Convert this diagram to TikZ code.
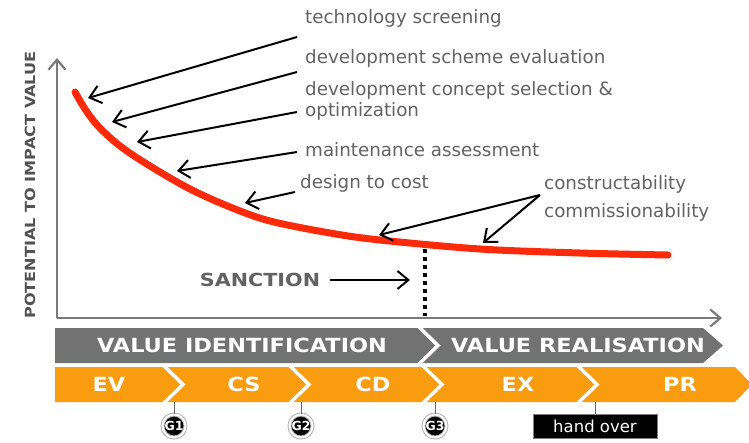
\documentclass[tikz,border=0pt]{standalone}
\usepackage{fontspec}
\setmainfont{DejaVu Sans}
\newfontfamily\bandfont[FakeStretch=1.15]{DejaVu Sans}
\usepackage{xcolor}
\usetikzlibrary{calc,arrows.meta,positioning}
\definecolor{curvered}{HTML}{FF2A0A}
\definecolor{axisgray}{HTML}{7A7A7A}
\definecolor{labgray}{HTML}{626262}
\definecolor{bandgray}{HTML}{727272}
\definecolor{bandorange}{HTML}{F99C10}
\tikzset{
  axisline/.style={draw=axisgray, line width=2.2pt, -{Straight Barb[length=10pt,width=17pt]}},
  pointer/.style={draw=black, line width=2pt, -{Straight Barb[length=11pt,width=18pt]}},
  lab/.style={text=labgray, font=\fontsize{18.3}{20}\selectfont, anchor=west, inner sep=0pt},
  boldlab/.style={text=labgray, font=\bandfont\bfseries\fontsize{18}{20}\selectfont, inner sep=0pt},
  bandtxt/.style={text=white, font=\bandfont\bfseries\fontsize{19.5}{22}\selectfont, inner sep=0pt},
  notch/.style={draw=white, line width=3.5pt},
  gate/.style={circle, fill=black, draw=gray!60, double=white, double distance=2pt, line width=1pt,
    minimum size=23pt, inner sep=0pt, text=white, font=\bfseries\fontsize{12.5}{14}\selectfont},
  tick/.style={draw=gray!80!black, line width=1pt},
}

\begin{document}
\begin{tikzpicture}[x=1pt,y=-1pt]
  \useasboundingbox (0,0) rectangle (749,442);

  % axes
  \coordinate (O) at (57,318);
  \coordinate (ytop) at (57,58);
  \coordinate (xend) at (722,318);
  \draw[axisline] (O) -- (ytop);
  \draw[axisline] (O) -- (xend);
  \node[boldlab, rotate=90, font=\bandfont\bfseries\fontsize{14}{16}\selectfont, text=labgray!85!black] (ylab) at (30,185) {POTENTIAL TO IMPACT VALUE};

  % value curve
  \draw[curvered, line width=7pt, line cap=round] plot[smooth, tension=0.55] coordinates
    {(75,92) (85,109) (98,126) (120,146) (150,166) (190,189) (230,207) (270,221) (330,233)
     (380,240) (480,249) (580,253) (668,255)};

  % labels
  \node[lab] (tech) at (305,18) {technology screening};
  \node[lab] (scheme) at (305,58) {development scheme evaluation};
  \node[lab] (concept) at (305,90) {development concept selection \&};
  \node[lab] (optim) at (305,111) {optimization};
  \node[lab] (maint) at (305,150) {maintenance assessment};
  \node[lab] (design) at (300,183) {design to cost};
  \node[lab] (constr) at (544,184) {constructability};
  \node[lab] (commis) at (544,212) {commissionability};

  % pointers
  \coordinate (c1) at (88,98);
  \coordinate (c2) at (112,122);
  \coordinate (c3) at (137,142);
  \coordinate (c4) at (177,171);
  \coordinate (c5) at (245,203);
  \coordinate (c6) at (379,235);
  \coordinate (c7) at (483,243);
  \draw[pointer] ($(tech.west)+(-8,19)$) -- (c1);
  \draw[pointer] ($(scheme.west)+(-8,14)$) -- (c2);
  \draw[pointer] ($(optim.west)+(-8,1)$) -- (c3);
  \draw[pointer] ($(maint.west)+(-8,2)$) -- (c4);
  \draw[pointer] ($(design.west)+(-5,9)$) -- (c5);
  \coordinate (cc) at ($(constr.west)+(-4,11)$);
  \draw[pointer] (cc) -- (c6);
  \draw[pointer] (cc) -- (c7);

  % sanction
  \node[boldlab] (sanct) at (260,280) {SANCTION};
  \coordinate (s1) at (425,249);
  \coordinate (s2) at (425,316);
  \draw[black, line width=3.5pt, dash pattern=on 4pt off 4pt] (s1) -- (s2);
  \draw[pointer] ($(sanct.east)+(10,0)$) -- ($(s1|-sanct)+(-15,0)$);

  % grey phase band
  \fill[bandgray] (55,328) -- (703,328) -- (723,345.5) -- (703,363) -- (55,363) -- cycle;
  \draw[notch] (418,326) -- (438,345.5) -- (418,365);
  \node[bandtxt] (vid) at (242,345.5) {VALUE IDENTIFICATION};
  \node[bandtxt] (vre) at (578,345.5) {VALUE REALISATION};

  % orange stage band
  \fill[bandorange] (55,367) -- (735,367) -- (752,384.5) -- (735,402) -- (55,402) -- cycle;
  \foreach \x in {163,289,422,577}
    \draw[notch] (\x,365) -- (\x+20,384.5) -- (\x,404);
  \foreach \t/\x in {EV/109,CS/244,CD/373,EX/518,PR/680}
    \node[bandtxt] (st-\t) at (\x,384.5) {\t};

  % gates
  \foreach \g/\x in {G1/174,G2/301,G3/435} {
    \node[gate] (\g) at (\x,426) {\g};
    \draw[tick] (\x,402) -- (\g);
  }
  \node[draw=gray, line width=1pt, fill=black, text=white, minimum width=124pt, minimum height=24pt,
    inner sep=0pt, font=\fontsize{16.5}{18}\selectfont] (hand) at (595,426) {hand over};
  \draw[tick] (595,402) -- (hand);
\end{tikzpicture}
\end{document}
